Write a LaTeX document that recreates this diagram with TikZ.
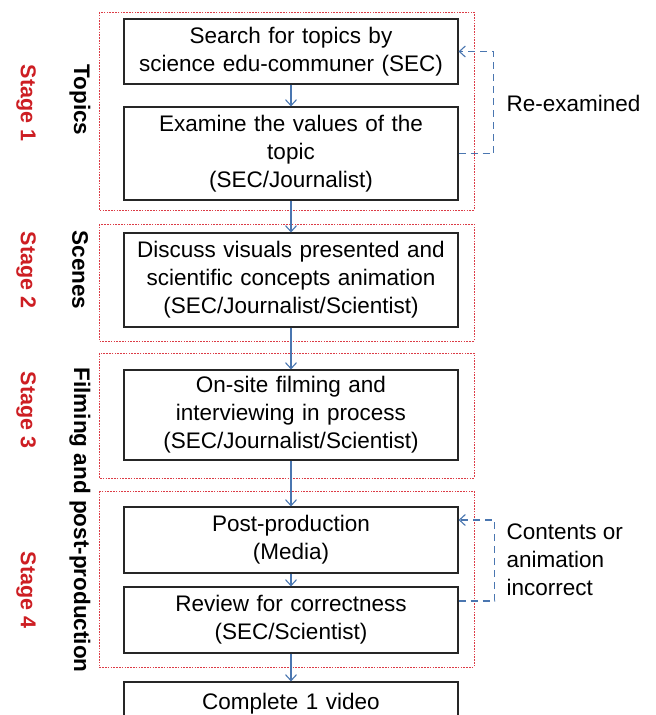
\documentclass[tikz,border=0pt]{standalone}
\usepackage{fontspec}
\setmainfont{Liberation Sans}
\usetikzlibrary{arrows.meta}
\definecolor{flowblue}{RGB}{74,118,176}
\definecolor{framered}{RGB}{220,60,70}
\definecolor{stagered}{RGB}{205,30,35}
\begin{document}
\begin{tikzpicture}[
    x=1pt, y=-1pt,
    font=\fontsize{22.5}{28}\selectfont,
    box/.style={rectangle, draw=black!85, line width=1.1pt, minimum width=334pt, text width=330pt, align=center, inner sep=0pt},
    frame/.style={draw=framered, line width=0.9pt, dash pattern=on 1.6pt off 1.2pt},
    arrow/.style={-{Straight Barb[length=6pt,width=11pt]}, draw=flowblue, line width=1.1pt},
    fb/.style={-{Straight Barb[length=6pt,width=11pt]}, draw=flowblue, line width=1.1pt, dash pattern=on 7pt off 5pt},
    stage/.style={rotate=-90, text=stagered, font=\fontsize{21.5}{24}\selectfont\bfseries},
    phase/.style={rotate=-90, font=\fontsize{22.5}{24}\selectfont\bfseries}
]
\useasboundingbox (0,0) rectangle (656,715);

% stage frames (dotted red)
\draw[frame] (99,12) rectangle (474,210);
\draw[frame] (99,224) rectangle (474,341);
\draw[frame] (99,353) rectangle (474,478);
\draw[frame] (99,491) rectangle (474,667);

% steps
\node[box, minimum height=65pt] (search) at (291,51.5) {Search for topics by\\science edu-communer (SEC)};
\node[box, minimum height=93pt] (examine) at (291,153.5) {Examine the values of the\\topic\\(SEC/Journalist)};
\node[box, minimum height=94pt] (discuss) at (291,280) {Discuss visuals presented and\\scientific concepts animation\\(SEC/Journalist/Scientist)};
\node[box, minimum height=90pt] (filming) at (291,415) {On-site filming and\\interviewing in process\\(SEC/Journalist/Scientist)};
\node[box, minimum height=66pt] (post) at (291,540) {Post-production\\(Media)};
\node[box, minimum height=66pt] (review) at (291,620) {Review for correctness\\(SEC/Scientist)};
\node[box, minimum height=66pt, text depth=28pt] (video) at (291,715) {Complete 1 video};

% stage labels
\node[stage] (s1) at (26,103) {Stage 1};
\node[stage] (s2) at (26,270) {Stage 2};
\node[stage] (s3) at (26,410) {Stage 3};
\node[stage] (s4) at (26,590) {Stage 4};
\node[phase] (topics) at (80,100) {Topics};
\node[phase] (scenes) at (80,270) {Scenes};
\node[phase] (filmpost) at (80,520) {Filming and post-production};

% flow
\draw[arrow] (search) -- (examine);
\draw[arrow] (examine) -- (discuss);
\draw[arrow] (discuss) -- (filming);
\draw[arrow] (filming) -- (post);
\draw[arrow] (post) -- (review);
\draw[arrow] (review) -- (video);

% feedback loops
\draw[fb] (examine.east) -- ++(35,0) |- (search.east);
\node[anchor=west] (reexam) at (503,103) {Re-examined};
\draw[fb] ([yshift=19pt]review.east) -- ++(36,0) |- ([yshift=20pt]post.east);
\node[anchor=west, align=left] (incorrect) at (503,560) {Contents or\\animation\\incorrect};

\end{tikzpicture}
\end{document}
